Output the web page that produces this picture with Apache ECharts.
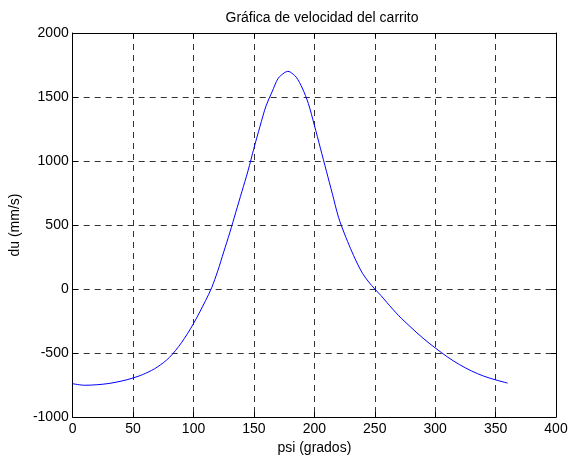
<!DOCTYPE html>
<html>
<head>
<meta charset="utf-8">
<script src="https://cdn.jsdelivr.net/npm/echarts@6/dist/echarts.min.js"></script>
<style>
  html, body { margin: 0; padding: 0; background: #fff; }
  #main { width: 575px; height: 461px; }
</style>
</head>
<body>
<div id="main"></div>
<script>
// angulo psi (grados) y velocidad du (mm/s)
var psi = [0, 10, 20, 30, 40, 50, 60, 70, 80, 90, 100, 110, 115, 120, 125, 130, 135, 140, 145,
  150, 155, 160, 165, 170, 175, 178, 180, 185, 190, 195, 200, 205, 210, 215, 220, 225, 230,
  235, 240, 245, 250, 255, 260, 270, 280, 290, 300, 310, 320, 330, 340, 350, 360];
var du = [-740, -752, -748, -738, -720, -695, -660, -610, -535, -420, -270, -90, 10, 140, 290,
  440, 600, 760, 920, 1100, 1270, 1430, 1540, 1645, 1688, 1700, 1695, 1655, 1570, 1450, 1280,
  1100, 920, 740, 560, 430, 315, 210, 120, 55, 0, -50, -105, -210, -300, -385, -460, -530,
  -590, -640, -680, -710, -735];

var xTicks = { min: 0, max: 400, step: 50 };
var yTicks = { min: -1000, max: 2000, step: 500 };

var font = 'Liberation Sans, Arial, sans-serif';
var fs = 14;

var points = [];
for (var i = 0; i < psi.length; i++) {
  points.push([psi[i], du[i]]);
}

var myChart = echarts.init(document.getElementById('main'));

// ejes secundarios solo para las marcas de arriba y de la derecha (como en MATLAB)
function boxAxis(pos, t) {
  return {
    type: 'value',
    position: pos,
    min: t.min, max: t.max, interval: t.step,
    axisLine: { show: true, onZero: false, lineStyle: { color: '#000', width: 1 } },
    axisTick: { show: true, inside: true, length: 5, lineStyle: { color: '#000' } },
    axisLabel: { show: false },
    splitLine: { show: false }
  };
}

function plain(v) { return String(v); }

myChart.setOption({
  backgroundColor: '#fff',
  animation: false,
  title: {
    text: 'Gráfica de velocidad del carrito',
    left: 317,
    top: 6,
    textAlign: 'center',
    textStyle: { fontFamily: font, fontSize: fs, fontWeight: 'normal', color: '#000' }
  },
  grid: { left: 72, right: 19, top: 33, bottom: 44, show: false },
  xAxis: [
    {
      type: 'value',
      position: 'bottom',
      min: xTicks.min, max: xTicks.max, interval: xTicks.step,
      name: 'psi (grados)',
      nameLocation: 'middle',
      nameGap: 23,
      nameTextStyle: { fontFamily: font, fontSize: fs, color: '#000' },
      axisLine: { show: true, onZero: false, lineStyle: { color: '#000', width: 1 } },
      axisTick: { show: true, inside: true, length: 5, lineStyle: { color: '#000' } },
      axisLabel: { fontFamily: font, fontSize: fs, color: '#000', margin: 5, formatter: plain },
      splitLine: { show: true, lineStyle: { color: '#333', type: [6, 5], width: 1 } }
    },
    boxAxis('top', xTicks)
  ],
  yAxis: [
    {
      type: 'value',
      position: 'left',
      min: yTicks.min, max: yTicks.max, interval: yTicks.step,
      name: 'du (mm/s)',
      nameLocation: 'middle',
      nameGap: 50,
      nameTextStyle: { fontFamily: font, fontSize: fs, color: '#000' },
      axisLine: { show: true, onZero: false, lineStyle: { color: '#000', width: 1 } },
      axisTick: { show: true, inside: true, length: 5, lineStyle: { color: '#000' } },
      axisLabel: { fontFamily: font, fontSize: fs, color: '#000', margin: 4, formatter: plain },
      splitLine: { show: true, lineStyle: { color: '#333', type: [6, 5], width: 1 } }
    },
    boxAxis('right', yTicks)
  ],
  series: [
    {
      type: 'line',
      xAxisIndex: 0,
      yAxisIndex: 0,
      data: points,
      smooth: 0.3,
      showSymbol: false,
      lineStyle: { color: '#0000ff', width: 1 }
    }
  ]
});
</script>
</body>
</html>
